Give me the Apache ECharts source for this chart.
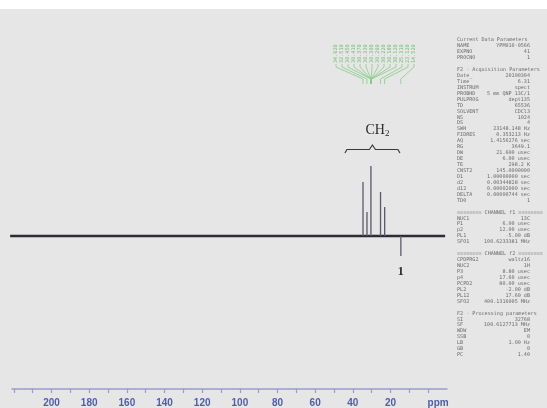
<!DOCTYPE html>
<html><head><meta charset="utf-8">
<script src="https://cdn.jsdelivr.net/npm/echarts@6/dist/echarts.min.js"></script>
<style>
html,body{margin:0;padding:0;background:#fff}
#c{width:547px;height:408px;background:linear-gradient(#ffffff 0,#ffffff 9px,#e6e6e6 9px,#e6e6e6 100%)}
</style>
</head><body><div id="c"></div>
<script>
// ---- data ----
const baselineRange = [222, -9];                 // ppm extent of the baseline trace
const peakShifts = [34.6, 32.5, 30.4, 25.3, 23.1, 14.5];   // ppm
const peakIntensities = [54, 24, 70, 44, 29, -20];          // relative intensity
const tickValues = [220,210,200,190,180,170,160,150,140,130,120,110,100,90,80,70,60,50,40,30,20,10,0];
const labelValues = [200,180,160,140,120,100,80,60,40,20,0];
const peakLabels = [34.62,32.51,30.45,30.41,30.37,30.33,30.30,30.26,30.22,30.18,30.12,25.31,23.12,14.52];
const groupLabel = 'CH2';
const groupRange = [44.2, 15.0];
const peakNumberLabel = '1';
const paramNames = ['Current Data Parameters','NAME','EXPNO','PROCNO','',
 'F2 - Acquisition Parameters','Date_','Time','INSTRUM','PROBHD','PULPROG','TD','SOLVENT','NS','DS','SWH','FIDRES','AQ','RG','DW','DE','TE','CNST2','D1','d2','d12','DELTA','TD0','',
 '======== CHANNEL f1 ========','NUC1','P1','p2','PL1','SFO1','',
 '======== CHANNEL f2 ========','CPDPRG2','NUC2','P3','p4','PCPD2','PL2','PL12','SFO2','',
 'F2 - Processing parameters','SI','SF','WDW','SSB','LB','GB','PC'];
const paramValues = ['','YPM010-0566','41','1','',
 '','20100304','6.31','spect','5 mm QNP 13C/1','dept135','65536','CDCl3','1024','4','23148.148 Hz','0.353213 Hz','1.4156276 sec','3649.1','21.600 usec','6.00 usec','298.2 K','145.0000000','1.00000000 sec','0.00344828 sec','0.00002000 sec','0.00000744 sec','1','',
 '','13C','6.00 usec','12.00 usec','-5.00 dB','100.6233381 MHz','',
 '','waltz16','1H','8.80 usec','17.60 usec','80.00 usec','-2.00 dB','17.60 dB','400.1316005 MHz','',
 '','32768','100.6127713 MHz','EM','0','1.00 Hz','0','1.40'];

// ---- chart ----
const chart = echarts.init(document.getElementById('c'), null, {renderer:'canvas'});
const axisCol = '#9a9ad2';
const series = [{
  type:'line', data: baselineRange.map(p => [p, 0]), symbol:'none', silent:true,
  lineStyle:{color:'#2c2c38', width:2.6}, z:3
}].concat(peakShifts.map((p,i) => ({
  type:'line', data:[[p,0],[p,peakIntensities[i]]], symbol:'none', silent:true,
  lineStyle:{color:'#5a5a6c', width:1.3}, z:4
})));

chart.setOption({
  animation:false,
  backgroundColor:'transparent',
  grid:{left:12, right:100, top:100, bottom:19},
  xAxis:{
    type:'value', inverse:true, min:-10, max:221,
    axisLine:{onZero:false, lineStyle:{color:axisCol, width:1.5}},
    axisTick:{show:true, customValues:tickValues, length:4, lineStyle:{color:axisCol, width:1.2}},
    axisLabel:{customValues:labelValues, color:'#4f5ea6', fontWeight:'bold', fontSize:10,
      fontFamily:'Liberation Sans', margin:9,
      formatter: v => v === 0 ? '{p|ppm}' : String(v),
      rich:{p:{color:'#4f5ea6', fontWeight:'bold', fontSize:10, fontFamily:'Liberation Sans', padding:[0,0,0,20]}}},
    splitLine:{show:false}
  },
  yAxis:{type:'value', min:-153, max:136, show:false, splitLine:{show:false}},
  series: series
});

// ---- annotations (positions derived from the axis scale) ----
const px = v => chart.convertToPixel({xAxisIndex:0}, v);
const g = [];
// CH2 brace
const b1 = px(groupRange[0]), b2 = px(groupRange[1]), bc = (b1 + b2) / 2;
g.push({type:'polyline', silent:true, shape:{points:[[b1,153],[b1+2,149.5],[bc-3,149.5],[bc,145],[bc+3,149.5],[b2-2,149.5],[b2,153]]},
  style:{stroke:'#3a3a3a', lineWidth:1.2, fill:null}});
g.push({type:'text', silent:true, x:bc+5, y:130, style:{text:'CH{s|2}', align:'center', verticalAlign:'middle',
  font:'14px "Liberation Serif"', fill:'#2a2a2a', rich:{s:{font:'9px "Liberation Serif"', fill:'#2a2a2a', padding:[8,0,0,0]}}}});
g.push({type:'text', silent:true, x:px(peakShifts[5]), y:272, style:{text:peakNumberLabel, align:'center', verticalAlign:'middle',
  font:'bold 12px "Liberation Serif"', fill:'#2a2a2a'}});
// green peak labels
peakLabels.forEach((v,i) => {
  const lx = 336 + i * 6;
  const tx = px(v);
  g.push({type:'text', silent:true, x:lx, y:63, rotation:Math.PI/2,
    style:{text:v.toFixed(3), align:'left', verticalAlign:'middle', font:'5.2px "DejaVu Sans Mono"', fill:'#6fbf6f'}});
  g.push({type:'polyline', silent:true, shape:{points:[[lx,64],[lx,67],[tx,79],[tx,84]]},
    style:{stroke:'#88cc88', lineWidth:0.8, fill:null}});
});
// parameter block
paramNames.forEach((n,i) => {
  const y = 40 + i * 5.94;
  if (n) g.push({type:'text', silent:true, x:457, y:y, style:{text:n, align:'left', verticalAlign:'middle',
    font:'5.1px "DejaVu Sans Mono"', fill:'#6a6a6a'}});
  if (paramValues[i]) g.push({type:'text', silent:true, x:530, y:y, style:{text:paramValues[i], align:'right', verticalAlign:'middle',
    font:'5.1px "DejaVu Sans Mono"', fill:'#6a6a6a'}});
});
chart.setOption({graphic:g});
</script>
</body></html>
